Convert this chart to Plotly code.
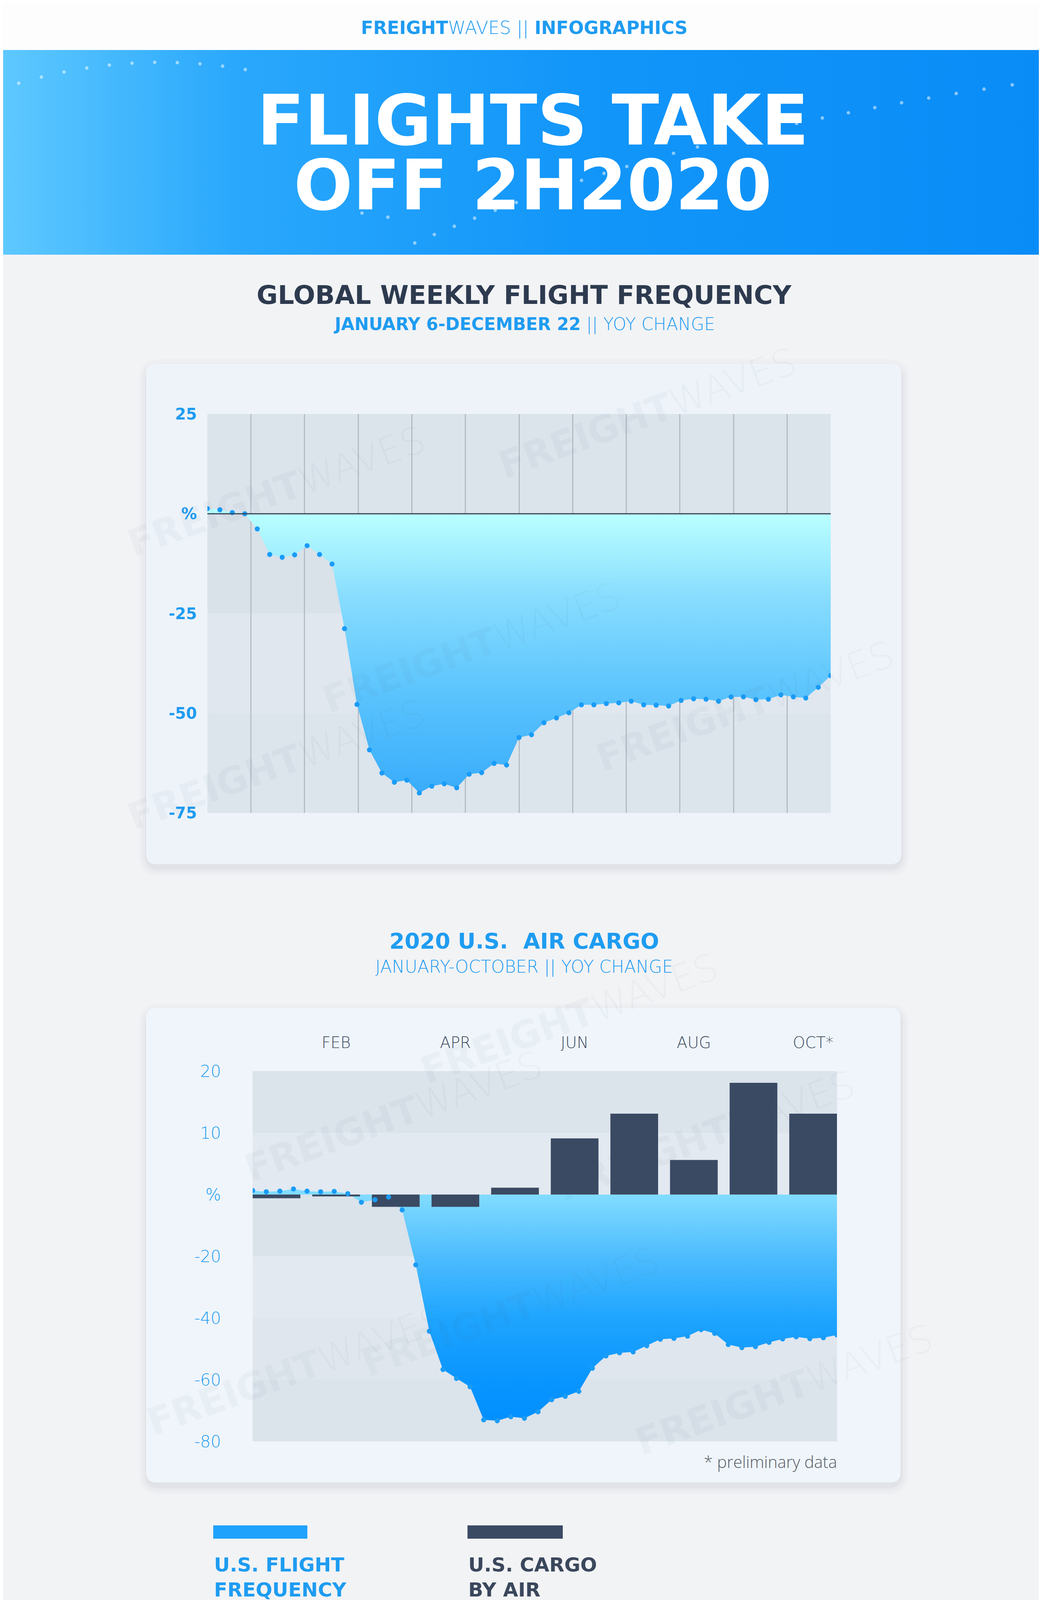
import plotly.graph_objects as go
import numpy as np

W, H = 2668, 4694

# ---------------- DATA ----------------
# Global weekly flight frequency, YoY % change (Jan 6 - Dec 22, weekly)
global_week = list(range(1, 52))
global_yoy = [1.3, 1.0, 0.3, 0.0, -3.8, -10.2, -10.9, -10.3, -8.0, -10.2,
              -12.6, -28.8, -47.8, -59.2, -65.0, -67.3, -66.8, -70.0, -68.3, -67.7,
              -68.7, -65.3, -64.9, -62.6, -63.0, -56.1, -55.4, -52.4, -51.2, -49.9,
              -47.9, -47.9, -47.6, -47.4, -47.0, -47.9, -48.0, -48.2, -46.8, -46.4,
              -46.5, -47.0, -45.9, -45.9, -46.6, -46.5, -45.4, -45.9, -46.2, -43.5,
              -40.6]

# U.S. weekly flight frequency, YoY % change (Jan - Oct)
us_week = list(range(0, 44))
us_flight_yoy = [1.3, 0.9, 1.1, 1.8, 1.1, 0.9, 1.0, 0.3, -2.5, -1.7,
                 -0.8, -5.0, -22.8, -44.3, -56.7, -59.6, -62.3, -73.0, -73.3, -72.0,
                 -72.5, -70.4, -66.5, -65.4, -63.8, -56.3, -52.3, -51.3, -51.0, -49.0,
                 -46.9, -46.6, -45.9, -43.8, -45.0, -48.6, -49.6, -49.3, -47.9, -46.8,
                 -46.1, -46.7, -46.4, -45.5]

# U.S. cargo by air, monthly YoY % change
cargo_months = ['JAN', 'FEB', 'MAR', 'APR', 'MAY', 'JUN', 'JUL', 'AUG', 'SEP', 'OCT*']
cargo_yoy = [-0.6, -0.3, -2.0, -2.0, 1.1, 9.1, 13.1, 5.6, 18.1, 13.1]
cargo_tick_labels = ['FEB', 'APR', 'JUN', 'AUG', 'OCT*']

chart1_yticks = [25, 0, -25, -50, -75]
chart1_ylabels = ['25', '%', '-25', '-50', '-75']
chart2_yticks = [0, -20, -40, -60, -80]
chart2_ylabels = ['%', '-20', '-40', '-60', '-80']
chart2_bar_yticks = [10, 20]
chart2_bar_ylabels = ['10', '20']

# ---------------- STYLE ----------------
BLUE = '#1e9cf1'
DARK = '#3a475c'
BAR = '#3b4a63'
DOT = '#1a9cf7'
FONT = 'DejaVu Sans'
NARROW = 'Liberation Sans Narrow, Open Sans'
THIN = 200


def X(px):
    return px / W


def Y(py):
    return 1 - py / H


def rrect(x0, y0, x1, y1, r):
    return (f"M {X(x0 + r)},{Y(y0)} L {X(x1 - r)},{Y(y0)} Q {X(x1)},{Y(y0)} {X(x1)},{Y(y0 + r)} "
            f"L {X(x1)},{Y(y1 - r)} Q {X(x1)},{Y(y1)} {X(x1 - r)},{Y(y1)} "
            f"L {X(x0 + r)},{Y(y1)} Q {X(x0)},{Y(y1)} {X(x0)},{Y(y1 - r)} "
            f"L {X(x0)},{Y(y0 + r)} Q {X(x0)},{Y(y0)} {X(x0 + r)},{Y(y0)} Z")


fig = go.Figure()

# ---------- page-level gradient banners (page axes x/y in pixels) ----------
fig.add_trace(go.Scatter(
    x=[0, W, W, 0], y=[120, 120, 644, 644], fill='toself', mode='lines',
    line=dict(width=0), hoverinfo='skip', showlegend=False, xaxis='x', yaxis='y',
    fillgradient=dict(type='horizontal',
                      colorscale=[[0, '#5ec8ff'], [0.22, '#2aa8fc'], [0.55, '#1296f9'], [1, '#0a8cf7']])))
fig.add_trace(go.Scatter(
    x=[0, W, W, 0], y=[4281, 4281, H, H], fill='toself', mode='lines',
    line=dict(width=0), hoverinfo='skip', showlegend=False, xaxis='x', yaxis='y',
    fillgradient=dict(type='horizontal',
                      colorscale=[[0, '#0a8ffb'], [0.5, '#22a2fc'], [1, '#4cb9fe']])))


# decorative flight-path dots in the header
def qbez(p0, p1, p2, n):
    t = np.linspace(0, 1, n)
    xs = (1 - t) ** 2 * p0[0] + 2 * (1 - t) * t * p1[0] + t ** 2 * p2[0]
    ys = (1 - t) ** 2 * p0[1] + 2 * (1 - t) * t * p1[1] + t ** 2 * p2[1]
    return xs, ys


for p0, p1, p2, n in [((40, 205), (330, 120), (620, 170), 11),
                      ((1054, 614), (1700, 330), (2657, 199), 27),
                      ((850, 522), (920, 540), (985, 548), 3)]:
    bx, by = qbez(p0, p1, p2, n)
    fig.add_trace(go.Scatter(x=bx, y=by, mode='markers', xaxis='x', yaxis='y',
                             marker=dict(size=9, color='rgba(255,255,255,0.5)'),
                             hoverinfo='skip', showlegend=False))

# ---------- Chart 1: global weekly flight frequency ----------
fig.add_trace(go.Scatter(
    x=global_week, y=global_yoy, mode='lines+markers', fill='tozeroy',
    line=dict(width=0, color='rgba(0,0,0,0)'),
    marker=dict(size=13, color=DOT),
    fillgradient=dict(type='vertical', start=-72, stop=0,
                      colorscale=[[0, '#36aafb'], [0.35, '#58c2fd'], [0.7, '#86dcfe'], [1, '#b9ffff']]),
    xaxis='x2', yaxis='y2', showlegend=False, hoverinfo='x+y'))

# ---------- Chart 2: U.S. flight frequency (fill) ----------
fig.add_trace(go.Scatter(
    x=us_week, y=us_flight_yoy, mode='lines', fill='tozeroy',
    line=dict(width=0, color='rgba(0,0,0,0)'),
    fillgradient=dict(type='vertical', start=-74, stop=0,
                      colorscale=[[0, '#008fff'], [0.2, '#0a96ff'], [0.46, '#1fa5fe'],
                                  [0.73, '#4dbcfe'], [1, '#82dcff']]),
    xaxis='x3', yaxis='y3', showlegend=False, hoverinfo='skip'))

# U.S. cargo by air (bars)
fig.add_trace(go.Bar(
    x=cargo_months, y=cargo_yoy, width=0.8, marker=dict(color=BAR, line=dict(width=0)),
    xaxis='x4', yaxis='y4', showlegend=False))

# U.S. flight frequency markers (on top of bars)
fig.add_trace(go.Scatter(
    x=us_week, y=us_flight_yoy, mode='markers', marker=dict(size=13, color=DOT),
    xaxis='x5', yaxis='y5', showlegend=False))

# ---------- shapes ----------
shapes = []
shapes.append(dict(type='rect', xref='paper', yref='paper', x0=0, x1=1, y0=Y(120), y1=1,
                   fillcolor='#fdfdfe', line=dict(width=0), layer='below'))
# card shadows and cards
for (cx0, cy0, cx1, cy1, col) in [(366, 922, 2300, 2204, '#edf3f9'),
                                  (366, 2572, 2298, 3787, '#eff5fa')]:
    for grow, alpha in [(22, 0.018), (14, 0.025), (7, 0.035)]:
        shapes.append(dict(type='path', xref='paper', yref='paper',
                           path=rrect(cx0 - grow + 4, cy0 - grow + 12, cx1 + grow - 2, cy1 + grow + 8, 30 + grow),
                           fillcolor=f'rgba(40,55,80,{alpha})', line=dict(width=0), layer='below'))
    shapes.append(dict(type='path', xref='paper', yref='paper', path=rrect(cx0, cy0, cx1, cy1, 26),
                       fillcolor=col, line=dict(width=0), layer='below'))

# chart 1 bands
for lo, hi, col in [(0, 25, '#dbe3eb'), (-25, 0, '#d9e1e9'), (-50, -25, '#e0e7ef'), (-75, -50, '#dce4ec')]:
    shapes.append(dict(type='rect', xref='x2', yref='y2', x0=1, x1=51, y0=lo, y1=hi,
                       fillcolor=col, line=dict(width=0), layer='below'))
# chart 1 zero line
shapes.append(dict(type='line', xref='x2', yref='y2', x0=1, x1=51, y0=0, y1=0,
                   line=dict(color='#3a4658', width=3), layer='above'))

# chart 2 bands (in flight-axis units: bar axis 20/10/0 == 40/20/0 here)
for lo, hi, col in [(20, 40, '#dbe3eb'), (0, 20, '#e2e9f0'), (-20, 0, '#dae2ea'),
                    (-40, -20, '#e2e9f0'), (-60, -40, '#dfe6ee'), (-80, -60, '#dbe3eb')]:
    shapes.append(dict(type='rect', xref='x3', yref='y3', x0=0, x1=43, y0=lo, y1=hi,
                       fillcolor=col, line=dict(width=0), layer='below'))

# legend swatches
shapes.append(dict(type='rect', xref='paper', yref='paper', x0=X(538), x1=X(779), y0=Y(3931), y1=Y(3897),
                   fillcolor='#1fa2fc', line=dict(width=0)))
shapes.append(dict(type='rect', xref='paper', yref='paper', x0=X(1189), x1=X(1433), y0=Y(3931), y1=Y(3897),
                   fillcolor=BAR, line=dict(width=0)))
# footer divider
shapes.append(dict(type='line', xref='paper', yref='paper', x0=X(1753), x1=X(1753), y0=Y(4604), y1=Y(4373),
                   line=dict(color='rgba(255,255,255,0.9)', width=3)))

# ---------- annotations ----------
ann = []


def txt(x, y, text, size, color, weight='normal', anchor='center', family=FONT):
    ann.append(dict(x=x, y=y, xref='x', yref='y', text=text, showarrow=False,
                    xanchor=anchor, yanchor='middle',
                    font=dict(family=family, size=size, color=color, weight=weight)))


# faint diagonal watermarks (kept inside the page)
for wx, wy in [(700, 1250), (1650, 1050), (1200, 1650), (1900, 1800), (700, 1950),
               (1000, 2850), (1800, 2900), (1300, 3350), (750, 3500), (2000, 3550),
               (1450, 2600)]:
    ann.append(dict(x=wx, y=wy, xref='x', yref='y', text='<b>FREIGHT</b>WAVES', showarrow=False,
                    textangle=-20, font=dict(family=FONT, size=96, color='rgba(70,85,105,0.045)', weight=THIN)))

txt(1334, 63, '<b>FREIGHT</b>WAVES || <b>INFOGRAPHICS</b>', 46, BLUE, weight=THIN)
txt(1356, 300, '<b>FLIGHTS TAKE</b>', 178, '#ffffff')
txt(1356, 466, '<b>OFF 2H2020</b>', 178, '#ffffff')
txt(1334, 747, '<b>GLOBAL WEEKLY FLIGHT FREQUENCY</b>', 66, '#2d3a4f')
txt(1334, 822, '<b>JANUARY 6-DECEMBER 22</b> || YOY CHANGE', 44, BLUE, weight=THIN)
txt(1334, 2400, '<b>2020 U.S.  AIR CARGO</b>', 56, BLUE)
txt(1334, 2467, 'JANUARY-OCTOBER || YOY CHANGE', 44, BLUE, weight=THIN)
txt(2137, 3733, '* preliminary data', 42, '#555b63', weight=300, anchor='right', family=NARROW)

txt(538, 3998, '<b>U.S. FLIGHT</b>', 50, BLUE, anchor='left')
txt(538, 4062, '<b>FREQUENCY</b>', 50, BLUE, anchor='left')
txt(538, 4135, 'YOY CHANGE', 46, BLUE, weight=THIN, anchor='left')
txt(1189, 3998, '<b>U.S. CARGO</b>', 50, DARK, anchor='left')
txt(1189, 4062, '<b>BY AIR</b>', 50, DARK, anchor='left')
txt(1189, 4135, 'YOY CHANGE', 46, DARK, weight=THIN, anchor='left')

txt(140, 4435, '<b>FREIGHT</b>WAVES.COM', 92, '#ffffff', weight=THIN, anchor='left')
txt(130, 4546, '/<b>INFOGRAPHICS</b>', 92, '#ffffff', weight=THIN, anchor='left')
txt(2205, 4493, 'Additional resources:<br>Bureau of Transportation<br>Statistics, Statista',
    52, '#ffffff', weight=300, family=NARROW)

# ---------- axes ----------
grid1 = [1] + list(np.arange(4.5, 51, 4.3)) + [51]
c1 = [Y(2073), Y(1052)]
c2 = [Y(3682), Y(2734)]
NOAM = dict(automargin=False)

fig.update_layout(
    width=W, height=H, margin=dict(l=0, r=0, t=0, b=0, pad=0, autoexpand=False),
    paper_bgcolor='#f2f3f5', plot_bgcolor='rgba(0,0,0,0)',
    showlegend=False, shapes=shapes, annotations=ann,
    xaxis=dict(domain=[0, 1], range=[0, W], visible=False, fixedrange=True, anchor='y', **NOAM),
    yaxis=dict(domain=[0, 1], range=[H, 0], visible=False, fixedrange=True, anchor='x', **NOAM),
    xaxis2=dict(domain=[X(523), X(2119)], range=[1, 51], tickmode='array', tickvals=grid1,
                anchor='y2', showticklabels=False, showgrid=True, gridcolor='#b4bcc5', gridwidth=3,
                zeroline=False, showline=False, ticks='', **NOAM),
    yaxis2=dict(domain=c1, range=[-75, 25], tickmode='array', tickvals=chart1_yticks, anchor='x2',
                ticktext=chart1_ylabels, showgrid=False, zeroline=False, ticks='',
                ticklabelstandoff=26,
                tickfont=dict(family=FONT, size=40, color=BLUE, weight='bold'), **NOAM),
    xaxis3=dict(domain=[X(639), X(2135)], range=[0, 43], visible=False, anchor='y3', **NOAM),
    yaxis3=dict(domain=c2, range=[-80, 40], tickmode='array', tickvals=chart2_yticks, anchor='x3',
                ticktext=chart2_ylabels, showgrid=False, zeroline=False, ticks='',
                ticklabelstandoff=80,
                tickfont=dict(family=FONT, size=42, color=BLUE, weight=THIN), **NOAM),
    xaxis4=dict(overlaying='x3', anchor='y3', type='category', categoryorder='array',
                categoryarray=cargo_months,
                range=[-0.4, 9.4], side='top', tickmode='array', tickvals=cargo_tick_labels,
                showgrid=False, zeroline=False, ticks='', ticklabelstandoff=50,
                tickfont=dict(family=FONT, size=40, color=DARK, weight=THIN), **NOAM),
    yaxis4=dict(overlaying='y3', anchor='x3', side='left', range=[-40, 20], tickmode='array',
                tickvals=chart2_bar_yticks,
                ticktext=chart2_bar_ylabels, showgrid=False, zeroline=False, ticks='',
                ticklabelstandoff=80,
                tickfont=dict(family=FONT, size=42, color=BLUE, weight=THIN), **NOAM),
    xaxis5=dict(overlaying='x3', anchor='y3', range=[0, 43], visible=False, **NOAM),
    yaxis5=dict(overlaying='y3', anchor='x3', range=[-80, 40], visible=False, **NOAM),
)

fig.write_html('out.html')
